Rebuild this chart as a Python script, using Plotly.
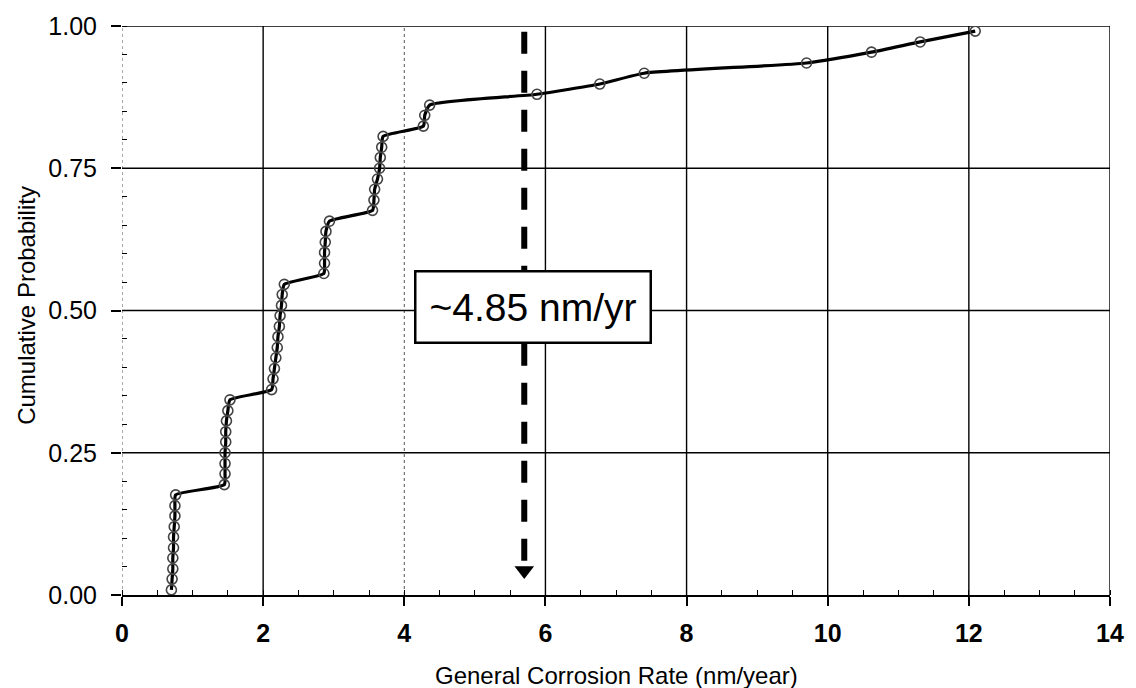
import plotly.graph_objects as go

# ---- data ----
corrosion_rate = [0.70, 0.71, 0.72, 0.72, 0.73, 0.73, 0.74, 0.75, 0.75, 0.76,
                  1.45, 1.46, 1.46, 1.46, 1.47, 1.47, 1.48, 1.50, 1.53,
                  2.12, 2.14, 2.16, 2.18, 2.20, 2.21, 2.23, 2.24, 2.26, 2.27, 2.30,
                  2.86, 2.87, 2.87, 2.88, 2.89, 2.94,
                  3.55, 3.57, 3.58, 3.62, 3.65, 3.66, 3.68, 3.70,
                  4.27, 4.29, 4.36,
                  5.88, 6.77, 7.40, 9.70, 10.62, 11.31, 12.09]
cum_prob = [0.009, 0.028, 0.046, 0.065, 0.083, 0.102, 0.120, 0.139, 0.157, 0.176,
            0.194, 0.213, 0.231, 0.250, 0.269, 0.287, 0.306, 0.324, 0.343,
            0.361, 0.380, 0.398, 0.417, 0.435, 0.454, 0.472, 0.491, 0.509, 0.528, 0.546,
            0.565, 0.583, 0.602, 0.620, 0.639, 0.657,
            0.676, 0.694, 0.713, 0.731, 0.750, 0.769, 0.787, 0.806,
            0.824, 0.843, 0.861,
            0.880, 0.898, 0.917, 0.935, 0.954, 0.972, 0.991]

x_ticks = [0, 2, 4, 6, 8, 10, 12, 14]
y_ticks = [0.0, 0.25, 0.50, 0.75, 1.00]
x_grid_solid = [2, 6, 8, 10, 12, 14]
x_grid_dotted = [0, 4]
y_grid = [0.25, 0.50, 0.75, 1.00]

marker_x = 5.70          # dashed arrow position
arrow_top, arrow_bottom = 0.99, 0.03
label_text = "~4.85 nm/yr"
label_x, label_y = 5.82, 0.506

FONT = "Liberation Sans, Arial, sans-serif"

fig = go.Figure()
fig.add_trace(go.Scatter(
    x=corrosion_rate, y=cum_prob, mode="lines+markers",
    line=dict(color="black", width=3.2, shape="spline", smoothing=0.5),
    marker=dict(symbol="circle-open", size=10, color="#444444", line=dict(width=1.6)),
    showlegend=False, hoverinfo="x+y"))

# arrow head
fig.add_trace(go.Scatter(
    x=[marker_x], y=[arrow_bottom + 0.013], mode="markers",
    marker=dict(symbol="triangle-down", size=17, color="black"),
    showlegend=False, hoverinfo="skip"))

shapes = []
for gx in x_grid_solid:
    shapes.append(dict(type="line", xref="x", yref="y", x0=gx, x1=gx, y0=0, y1=1,
                       line=dict(color="black", width=1.4), layer="below"))
for gx in x_grid_dotted:
    shapes.append(dict(type="line", xref="x", yref="y", x0=gx, x1=gx, y0=0, y1=1,
                       line=dict(color="#555555", width=1, dash="dot"), layer="below"))
for gy in y_grid:
    shapes.append(dict(type="line", xref="x", yref="y", x0=0, x1=14, y0=gy, y1=gy,
                       line=dict(color="black", width=1.4), layer="below"))
shapes.append(dict(type="line", xref="x", yref="y", x0=marker_x, x1=marker_x,
                   y0=arrow_bottom + 0.03, y1=arrow_top,
                   line=dict(color="black", width=6, dash="22px,17px"), layer="above"))

fig.update_layout(
    width=1136, height=688,
    margin=dict(l=122, r=13, t=21, b=93),
    paper_bgcolor="white", plot_bgcolor="white",
    font=dict(family=FONT, color="black"),
    shapes=shapes,
    annotations=[
        dict(x=label_x, y=label_y, xref="x", yref="y", text=label_text,
             showarrow=False, font=dict(family=FONT, size=39, color="black"),
             bgcolor="white", bordercolor="black", borderwidth=2.5, borderpad=13),
        dict(x=0.5, y=-0.141, xref="paper", yref="paper", xanchor="center", yanchor="middle",
             text="General Corrosion Rate (nm/year)", showarrow=False,
             font=dict(family=FONT, size=24, color="black")),
        dict(x=-0.0967, y=0.509, xref="paper", yref="paper", xanchor="center", yanchor="middle",
             text="Cumulative Probability", textangle=-90, showarrow=False,
             font=dict(family=FONT, size=24, color="black")),
    ],
    xaxis=dict(range=[0, 14], tickvals=x_ticks, showgrid=False, zeroline=False,
               showline=True, linecolor="black", linewidth=2,
               ticks="outside", ticklen=9, tickwidth=1.8, tickcolor="black",
               ticklabelstandoff=6, ticklabeloverflow="allow",
               minor=dict(ticks="inside", dtick=0.5, ticklen=5, tickwidth=1.2, tickcolor="black", showgrid=False),
               tickfont=dict(family=FONT, size=25, color="black", weight="bold")),
    yaxis=dict(range=[0, 1], tickvals=y_ticks, tickformat=".2f", showgrid=False, zeroline=False,
               showline=False,
               ticks="outside", ticklen=10, tickwidth=1.5, tickcolor="black",
               ticklabelstandoff=9, ticklabeloverflow="allow",
               minor=dict(ticks="inside", dtick=0.05, ticklen=5, tickwidth=1, tickcolor="black", showgrid=False),
               tickfont=dict(family=FONT, size=25, color="black")),
)

fig.write_html("out.html")
